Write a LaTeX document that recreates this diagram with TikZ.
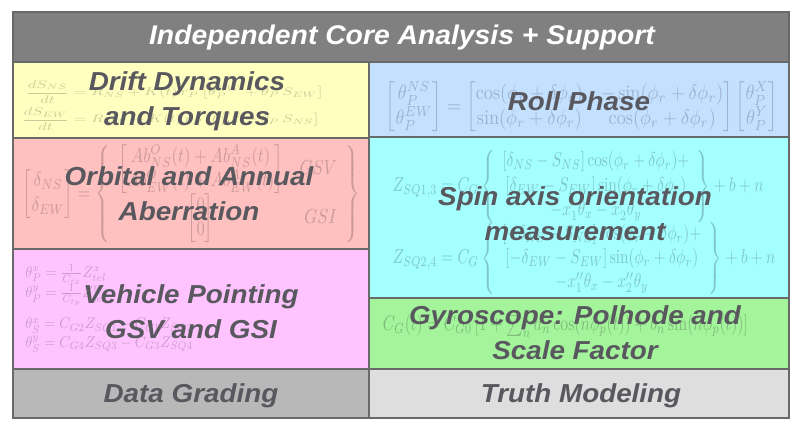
\documentclass[tikz,border=0pt]{standalone}
\usepackage{amsmath}
\usepackage{graphicx}
\usepackage{fontspec}
\newfontfamily\labfont{Liberation Sans}
\definecolor{hdr}{RGB}{128,128,128}
\definecolor{cyel}{RGB}{255,255,192}
\definecolor{cblu}{RGB}{196,224,255}
\definecolor{csal}{RGB}{255,192,192}
\definecolor{ccya}{RGB}{164,255,255}
\definecolor{cpnk}{RGB}{255,196,255}
\definecolor{cgrn}{RGB}{164,244,156}
\definecolor{cdg}{RGB}{184,184,184}
\definecolor{ctm}{RGB}{222,222,222}
\definecolor{labtxt}{RGB}{88,88,94}
\definecolor{rule}{RGB}{105,105,105}
\tikzset{
  cellbox/.style={draw=rule, line width=1.1pt},
  lab/.style={text=labtxt, font=\labfont\bfseries\itshape\fontsize{26}{35}\selectfont, align=center, xscale=1.07, inner sep=0pt},
  eqn/.style={inner sep=0pt, text opacity=0.45},
}
\begin{document}
\begin{tikzpicture}[x=1pt,y=-1pt]
\useasboundingbox (0,0) rectangle (800,432);
\fill[white] (0,0) rectangle (800,432);
% cells
\filldraw[cellbox, fill=hdr] (13,12) rectangle (789,62);
\filldraw[cellbox, fill=cyel] (13,62) rectangle (369,138);
\filldraw[cellbox, fill=csal] (13,138) rectangle (369,249);
\filldraw[cellbox, fill=cpnk] (13,249) rectangle (369,369);
\filldraw[cellbox, fill=cblu] (369,62) rectangle (789,137);
\filldraw[cellbox, fill=ccya] (369,137) rectangle (789,298);
\filldraw[cellbox, fill=cgrn] (369,298) rectangle (789,369);
\filldraw[cellbox, fill=cdg] (13,369) rectangle (369,418);
\filldraw[cellbox, fill=ctm] (369,369) rectangle (789,418);

% faint equations
\node[eqn, text=cyel!55!black] (eqdrift) at (173,105.5) {\resizebox*{302pt}{50pt}{$\begin{aligned}
\frac{dS_{NS}}{dt} &= R_{NS} + K(t)\,r_P\left[\theta^{EW}_P + \theta_P\, S_{EW}\right]\\
\frac{dS_{EW}}{dt} &= R_{EW} + K(t)\,r_P\left[\theta^{NS}_P - \theta_P\, S_{NS}\right]
\end{aligned}$}};
\node[eqn, text=cblu!55!black] (eqroll) at (582,107) {\resizebox*{392pt}{50pt}{$\begin{bmatrix}\theta_P^{NS}\\ \theta_P^{EW}\end{bmatrix} = \begin{bmatrix}\cos(\phi_r+\delta\phi_r) & -\sin(\phi_r+\delta\phi_r)\\ \sin(\phi_r+\delta\phi_r) & \cos(\phi_r+\delta\phi_r)\end{bmatrix}\begin{bmatrix}\theta_P^{X}\\ \theta_P^{Y}\end{bmatrix}$}};
\node[eqn, text=csal!55!black] (eqorb) at (191.5,194) {\resizebox*{337pt}{98pt}{$\begin{bmatrix}\delta_{NS}\\ \delta_{EW}\end{bmatrix} = \left\{\begin{array}{cr}\begin{bmatrix}Ab^{O}_{NS}(t)+Ab^{A}_{NS}(t)\\ Ab^{O}_{EW}(t)+Ab^{A}_{EW}(t)\end{bmatrix} & GSV\\[6pt] \begin{bmatrix}0\\ 0\end{bmatrix} & GSI\end{array}\right\}$}};
\node[eqn, text=ccya!50!black] (eqspin) at (584,222.5) {\resizebox*{398pt}{145pt}{$\begin{array}{l}
Z_{SQ1,3} = C_G\left\{\begin{array}{c}\lbrack\delta_{NS}-S_{NS}\rbrack\cos(\phi_r+\delta\phi_r)+\\ \relax\lbrack\delta_{EW}-S_{EW}\rbrack\sin(\phi_r+\delta\phi_r)\\ -x'_1\theta_x-x'_2\theta_y\end{array}\right\}+b+n\\[4pt]
Z_{SQ2,4} = C_G\left\{\begin{array}{c}\lbrack-\delta_{NS}-S_{NS}\rbrack\cos(\phi_r+\delta\phi_r)+\\ \relax\lbrack-\delta_{EW}-S_{EW}\rbrack\sin(\phi_r+\delta\phi_r)\\ -x''_1\theta_x-x''_2\theta_y\end{array}\right\}+b+n
\end{array}$}};
\node[eqn, text=cpnk!55!black, anchor=north west] (eqveh) at (18,264) {\resizebox*{182pt}{89pt}{$\begin{array}{l}
\theta^x_P = \tfrac{1}{C_{tx}}Z^x_{tel}\\
\theta^y_P = \tfrac{1}{C_{ty}}Z^y_{tel}\\[8pt]
\theta^x_S = C_{G2}Z_{SQ1}-C_{G1}Z_{SQ2}\\
\theta^y_S = C_{G4}Z_{SQ3}-C_{G3}Z_{SQ4}
\end{array}$}};
\node[eqn, text=cgrn!50!black] (eqgyro) at (565.5,326) {\resizebox*{365pt}{22pt}{$C_G(t) = C_{G0}\left[1+\textstyle\sum_n a_n\cos(n\phi_p(t)) + b_n\sin(n\phi_p(t))\right]$}};

% labels
\node[lab, text=white, xscale=0.98] (thdr) at (402,38) {\fontsize{27}{30}\selectfont Independent Core Analysis + Support};
\node[lab] (tdrift) at (187,101) {Drift Dynamics\\and Torques};
\node[lab] (troll) at (579,101) {Roll Phase};
\node[lab] (torb) at (189,194) {Orbital and Annual\\Aberration};
\node[lab] (tspin) at (575,214) {Spin axis orientation\\measurement};
\node[lab] (tveh) at (191,312) {Vehicle Pointing\\GSV and GSI};
\node[lab] (tgyro) at (575,333) {Gyroscope: Polhode and\\Scale Factor};
\node[lab] (tdata) at (191,396) {Data Grading};
\node[lab] (ttruth) at (581,396) {Truth Modeling};
\end{tikzpicture}
\end{document}
